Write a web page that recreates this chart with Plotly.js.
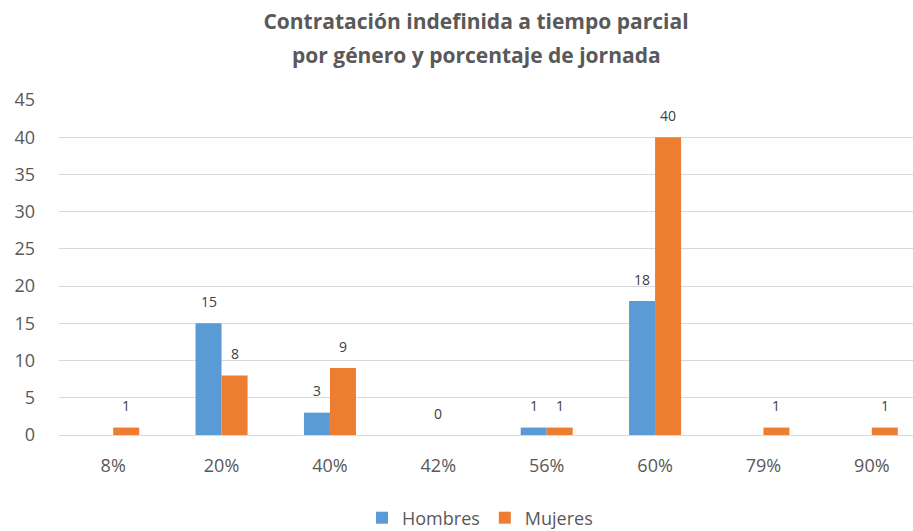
<!DOCTYPE html>
<html>
<head>
<meta charset="utf-8">
<script src="https://cdn.plot.ly/plotly-3.0.1.min.js"></script>
<style>html,body{margin:0;padding:0;background:#fff;}#chart{width:913px;height:531px;}</style>
</head>
<body>
<div id="chart"></div>
<script>
const categories = ['8%', '20%', '40%', '42%', '56%', '60%', '79%', '90%'];
const hombres = [null, 15, 3, null, 1, 18, null, null];
const mujeres = [1, 8, 9, 0, 1, 40, 1, 1];
const yTicks = [0, 5, 10, 15, 20, 25, 30, 35, 40, 45];
const titleLine1 = 'Contratación indefinida a tiempo parcial';
const titleLine2 = 'por género y porcentaje de jornada';

const W = 913, H = 531;
const margin = {l: 59, r: 0, t: 100, b: 96, autoexpand: false};
const xRange = [-0.5, 7.38];
const bargap = 0.52;
const plotW = W - margin.l - margin.r;
const plotH = H - margin.t - margin.b;
const catPx = plotW / (xRange[1] - xRange[0]);
const barPx = catPx * (1 - bargap) / 2;
const labelFont = {family: 'Open Sans, sans-serif', size: 14, color: '#404040'};
const gray = '#595959';
const titleFont = {family: 'Open Sans, sans-serif', size: 21, color: gray};

const annotations = [];
categories.forEach((c, i) => {
  const h = hombres[i], m = mujeres[i];
  if (h === null && m === 0) {
    annotations.push({x: c, y: 0, xref: 'x', yref: 'y', text: String(m), showarrow: false,
      yanchor: 'middle', yshift: 22, font: labelFont});
    return;
  }
  if (h !== null) annotations.push({x: c, y: h, xref: 'x', yref: 'y', text: String(h), showarrow: false,
    xshift: -barPx / 2, yanchor: 'middle', yshift: 22, font: labelFont});
  if (m !== null) annotations.push({x: c, y: m, xref: 'x', yref: 'y', text: String(m), showarrow: false,
    xshift: barPx / 2, yanchor: 'middle', yshift: 22, font: labelFont});
});
annotations.push({text: '<b>' + titleLine2 + '</b>', xref: 'paper', yref: 'paper',
  x: (476 - margin.l) / plotW, y: (H - margin.b - 55) / plotH,
  xanchor: 'center', yanchor: 'middle', showarrow: false, font: titleFont});

const traces = [
  {type: 'bar', name: 'Hombres', x: categories, y: hombres, marker: {color: '#5B9BD5'}, hoverinfo: 'x+y+name'},
  {type: 'bar', name: 'Mujeres', x: categories, y: mujeres, marker: {color: '#ED7D31'}, hoverinfo: 'x+y+name'}
];

const layout = {
  width: W, height: H, margin: margin,
  paper_bgcolor: '#fff', plot_bgcolor: '#fff',
  barmode: 'group', bargap: bargap, bargroupgap: 0,
  title: {text: '<b>' + titleLine1 + '</b>', x: 476 / W, xref: 'container', xanchor: 'center',
    y: 1 - 22 / H, yref: 'container', yanchor: 'middle', font: titleFont},
  xaxis: {type: 'category', range: xRange, showgrid: false, showline: true, linecolor: '#D9D9D9', linewidth: 1,
    ticks: '', tickfont: {family: 'Open Sans, sans-serif', size: 18, color: gray}, ticklabelstandoff: 14, fixedrange: true},
  yaxis: {range: [0, 45], tickvals: yTicks, showgrid: true, gridcolor: '#D9D9D9', gridwidth: 1,
    zeroline: false, showline: false, ticks: '', ticklabelstandoff: 23,
    tickfont: {family: 'Open Sans, sans-serif', size: 18, color: gray}, fixedrange: true},
  legend: {orientation: 'h', x: (480 - margin.l) / plotW, xanchor: 'center', y: -(518 - (H - margin.b)) / plotH,
    yanchor: 'middle', font: {family: 'Open Sans, sans-serif', size: 18, color: gray}, itemwidth: 30, traceorder: 'normal'},
  annotations: annotations,
  showlegend: true
};

Plotly.newPlot('chart', traces, layout, {displayModeBar: false, staticPlot: true});
</script>
</body>
</html>
